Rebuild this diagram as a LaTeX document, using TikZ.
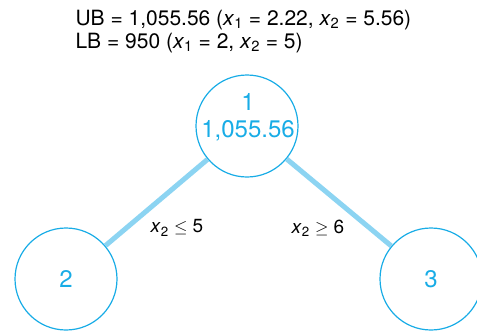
\documentclass[tikz,border=0pt]{standalone}
\usepackage{fontspec}
\setmainfont{TeX Gyre Heros}
\usetikzlibrary{positioning}
\definecolor{bbcyan}{RGB}{24,172,230}
\definecolor{bbedge}{RGB}{140,212,242}

\begin{document}
\begin{tikzpicture}[x=1pt, y=-1pt,
  bbnode/.style={circle, draw=bbcyan, line width=1.2pt, minimum size=102pt, inner sep=0pt},
  bbtext/.style={text=bbcyan, font=\fontsize{24}{27}\selectfont, align=center},
  bbedge/.style={draw=bbedge, line width=5pt},
  bblabel/.style={font=\fontsize{19}{22}\selectfont}]
\useasboundingbox (0,0) rectangle (477,333);

% Bounds found at the root
\node[anchor=base west, font=\fontsize{21}{24}\selectfont] (ub) at (72,25)
  {UB = 1,055.56 (\textit{x}\textsubscript{1} = 2.22, \textit{x}\textsubscript{2} = 5.56)};
\node[anchor=base west, font=\fontsize{21}{24}\selectfont] (lb) at (72,48)
  {LB = 950 (\textit{x}\textsubscript{1} = 2, \textit{x}\textsubscript{2} = 5)};

% Tree nodes
\node[bbnode] (n1) at (247,126) {};
\node[bbtext] (t1) at (248,117) {1\\1,055.56};
\node[bbnode] (n2) at (66,279) {};
\node[bbtext] (t2) at (n2) {2};
\node[bbnode] (n3) at (431,279) {};
\node[bbtext] (t3) at (n3) {3};

% Branches
\draw[bbedge] (n1) -- (n2);
\draw[bbedge] (n1) -- (n3);
\node[bblabel] (l2) at (177,228) {\textit{x}\textsubscript{2} $\leq$ 5};
\node[bblabel] (l3) at (318,228) {\textit{x}\textsubscript{2} $\geq$ 6};
\end{tikzpicture}
\end{document}
